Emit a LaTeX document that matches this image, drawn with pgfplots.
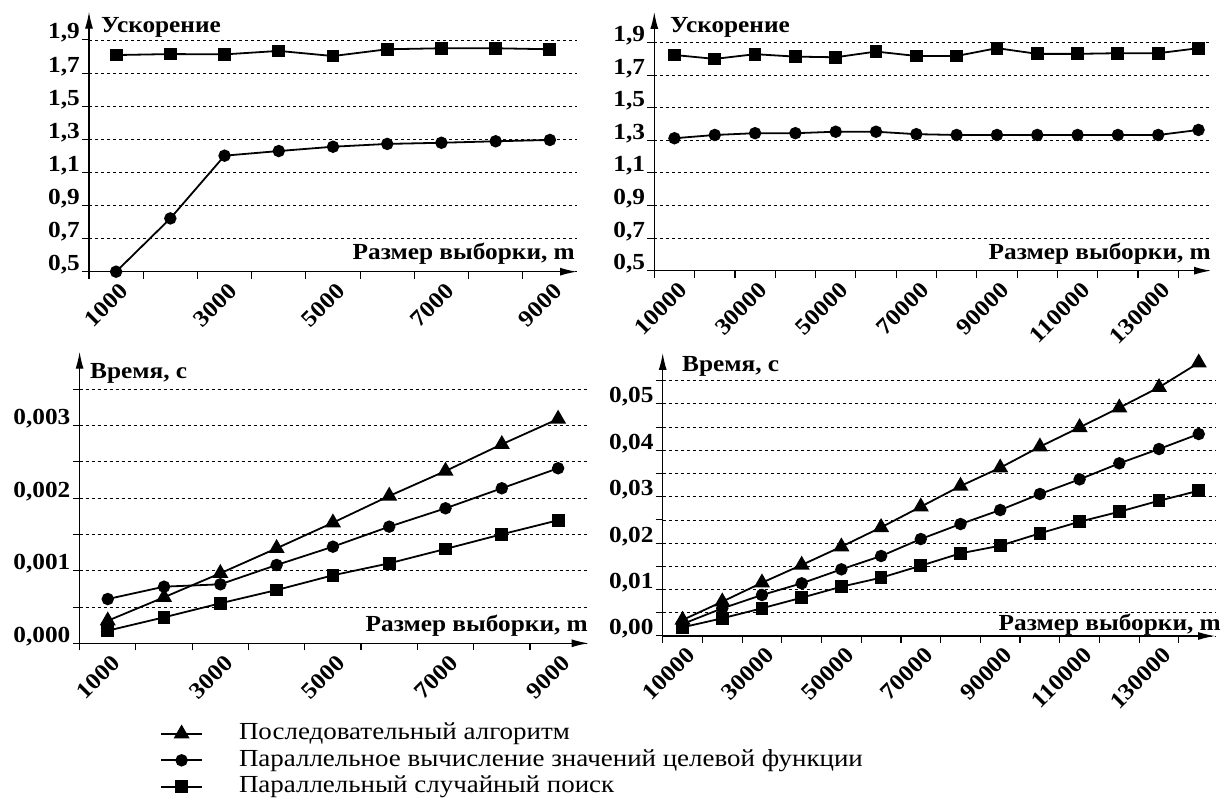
\documentclass[border=0pt]{standalone}
\usepackage{fontspec}
\setmainfont{Liberation Serif}[FakeStretch=1.1]
\usepackage{pgfplots}
\pgfplotsset{compat=1.18}
\usetikzlibrary{arrows.meta}
\newcommand\tickfont{\fontsize{23}{27}\selectfont\bfseries}
\newcommand\lblfont{\fontsize{23}{27}\selectfont\bfseries}
\newcommand\legfont{\fontsize{24.5}{28}\selectfont}
\pgfplotsset{
 panel/.style={
  scale only axis, anchor=south west, axis lines=left,
  axis line style={line width=1.3pt, -{Latex[length=17pt,width=8pt]}},
  xmin=0, ymajorgrids,
  major grid style={dash pattern=on 3pt off 3pt, line width=0.9pt, black},
  xtick align=outside, ytick align=outside,
  major x tick style={draw=none},
  minor x tick style={line width=1.2pt, black},
  major y tick style={line width=1.0pt, black},
  major tick length=7pt, minor tick length=7pt,
  tick label style={font=\tickfont},
  xticklabel style={rotate=45, anchor=north east, inner sep=0pt, yshift=-4pt},
  yticklabel style={anchor=base east, inner sep=0pt, xshift=-2pt, yshift=1pt},
  scaled y ticks=false, clip=false,
  every axis plot/.append style={line width=1.8pt, black},
 },
 tri/.style={mark=triangle*, mark size=7.5pt, mark options={solid, fill=black}},
 cir/.style={mark=*, mark size=5.3pt, mark options={solid, fill=black}},
 sqr/.style={mark=square*, mark size=5.5pt, mark options={solid, fill=black}},
}
\begin{document}
\begin{tikzpicture}
\useasboundingbox (0,0) rectangle (1223pt,799pt);
% Top-left
\begin{axis}[panel, at={(89pt,527.3pt)}, width=488pt, height=260pt,
  xmax=9, ymin=0.5, ymax=2.071,
  xtick={0.5,2.5,4.5,6.5,8.5}, xticklabels={1000,3000,5000,7000,9000},
  minor xtick={0,1,...,8},
  ytick={0.5,0.7,0.9,1.1,1.3,1.5,1.7,1.9},
  yticklabels={{0,5},{0,7},{0,9},{1,1},{1,3},{1,5},{1,7},{1,9}}]
\addplot[sqr] coordinates {(0.5,1.809) (1.5,1.815) (2.5,1.813) (3.5,1.834) (4.5,1.803) (5.5,1.844) (6.5,1.850) (7.5,1.850) (8.5,1.844)};
\addplot[cir] coordinates {(0.5,0.500) (1.5,0.822) (2.5,1.201) (3.5,1.229) (4.5,1.255) (5.5,1.272) (6.5,1.279) (7.5,1.288) (8.5,1.296)};
\end{axis}
% Top-right
\begin{axis}[panel, at={(654.3pt,528.3pt)}, width=556.7pt, height=258.7pt,
  xmax=13.81, ymin=0.5, ymax=2.088,
  xtick={0.5,2.5,4.5,6.5,8.5,10.5,12.5}, xticklabels={10000,30000,50000,70000,90000,110000,130000},
  minor xtick={0,1,...,13},
  ytick={0.5,0.7,0.9,1.1,1.3,1.5,1.7,1.9},
  yticklabels={{0,5},{0,7},{0,9},{1,1},{1,3},{1,5},{1,7},{1,9}}]
\addplot[sqr] coordinates {(0.5,1.824) (1.5,1.800) (2.5,1.829) (3.5,1.814) (4.5,1.810) (5.5,1.845) (6.5,1.818) (7.5,1.818) (8.5,1.866) (9.5,1.831) (10.5,1.831) (11.5,1.835) (12.5,1.835) (13.5,1.866)};
\addplot[cir] coordinates {(0.5,1.313) (1.5,1.333) (2.5,1.344) (3.5,1.344) (4.5,1.353) (5.5,1.353) (6.5,1.338) (7.5,1.333) (8.5,1.333) (9.5,1.333) (10.5,1.333) (11.5,1.333) (12.5,1.333) (13.5,1.364)};
\end{axis}
% Bottom-left
\begin{axis}[panel, at={(79.6pt,155.7pt)}, width=508.9pt, height=291.6pt,
  xmax=9.04, ymin=0, ymax=0.004018,
  xtick={0.5,2.5,4.5,6.5,8.5}, xticklabels={1000,3000,5000,7000,9000},
  minor xtick={0,1,...,8},
  ytick={0,0.0005,0.001,0.0015,0.002,0.0025,0.003,0.0035},
  yticklabels={{0,000},{},{0,001},{},{0,002},{},{0,003},{}},
  legend style={draw=none, fill=none, inner sep=0pt, at={(axis description cs:0.158,-0.272)}, anchor=north west,
    font=\legfont, row sep=4.5pt, nodes={inner sep=0pt, text height=17pt, text depth=5pt},
    /tikz/every odd column/.append style={column sep=36pt}},
  legend cell align=left,
  legend image code/.code={\draw[mark repeat=2,mark phase=2,#1] plot coordinates {(0pt,0pt) (20.5pt,0pt) (41pt,0pt)};}]
\addplot[tri] coordinates {(0.5,0.000311) (1.5,0.000634) (2.5,0.000965) (3.5,0.001309) (4.5,0.001662) (5.5,0.002030) (6.5,0.002374) (7.5,0.002742) (8.5,0.003091)};
\addlegendentry{Последовательный алгоритм}
\addplot[cir] coordinates {(0.5,0.000610) (1.5,0.000780) (2.5,0.000813) (3.5,0.001079) (4.5,0.001331) (5.5,0.001607) (6.5,0.001860) (7.5,0.002136) (8.5,0.002412)};
\addlegendentry{Параллельное вычисление значений целевой функции}
\addplot[sqr] coordinates {(0.5,0.000174) (1.5,0.000358) (2.5,0.000551) (3.5,0.000734) (4.5,0.000937) (5.5,0.001102) (6.5,0.001300) (7.5,0.001502) (8.5,0.001695)};
\addlegendentry{Параллельный случайный поиск}
\end{axis}
% Bottom-right
\begin{axis}[panel, at={(662.7pt,163pt)}, width=552.3pt, height=283pt,
  xmax=13.91, ymin=0, ymax=0.06097,
  xtick={0.5,2.5,4.5,6.5,8.5,10.5,12.5}, xticklabels={10000,30000,50000,70000,90000,110000,130000},
  minor xtick={0,1,...,13},
  ytick={0,0.005,0.01,0.015,0.02,0.025,0.03,0.035,0.04,0.045,0.05,0.055},
  yticklabels={{0,00},{},{0,01},{},{0,02},{},{0,03},{},{0,04},{},{0,05},{}}]
\addplot[tri] coordinates {(0.5,0.00345) (1.5,0.00739) (2.5,0.01148) (3.5,0.01530) (4.5,0.01924) (5.5,0.02340) (6.5,0.02785) (7.5,0.03231) (8.5,0.03625) (9.5,0.04078) (10.5,0.04495) (11.5,0.04918) (12.5,0.05357) (13.5,0.05887)};
\addplot[cir] coordinates {(0.5,0.00258) (1.5,0.00596) (2.5,0.00883) (3.5,0.01135) (4.5,0.01436) (5.5,0.01723) (6.5,0.02089) (7.5,0.02412) (8.5,0.02714) (9.5,0.03059) (10.5,0.03375) (11.5,0.03720) (12.5,0.04028) (13.5,0.04351)};
\addplot[sqr] coordinates {(0.5,0.00187) (1.5,0.00381) (2.5,0.00597) (3.5,0.00825) (4.5,0.01062) (5.5,0.01256) (6.5,0.01514) (7.5,0.01781) (8.5,0.01945) (9.5,0.02212) (10.5,0.02462) (11.5,0.02677) (12.5,0.02914) (13.5,0.03130)};
\end{axis}
% axis titles
\node[font=\lblfont, anchor=base west, inner sep=0pt] at (101pt,766pt) {Ускорение};
\node[font=\lblfont, anchor=base west, inner sep=0pt] at (670pt,766pt) {Ускорение};
\node[font=\lblfont, anchor=base east, inner sep=0pt] at (575pt,539pt) {Размер выборки, m};
\node[font=\lblfont, anchor=base east, inner sep=0pt] at (1211pt,539pt) {Размер выборки, m};
\node[font=\lblfont, anchor=base west, inner sep=0pt] at (90pt,420pt) {Время, с};
\node[font=\lblfont, anchor=base east, inner sep=0pt] at (588pt,167pt) {Размер выборки, m};
\node[font=\lblfont, anchor=base west, inner sep=0pt] at (682pt,427pt) {Время, с};
\node[font=\lblfont, anchor=base east, inner sep=0pt] at (1221pt,168pt) {Размер выборки, m};
\end{tikzpicture}
\end{document}
